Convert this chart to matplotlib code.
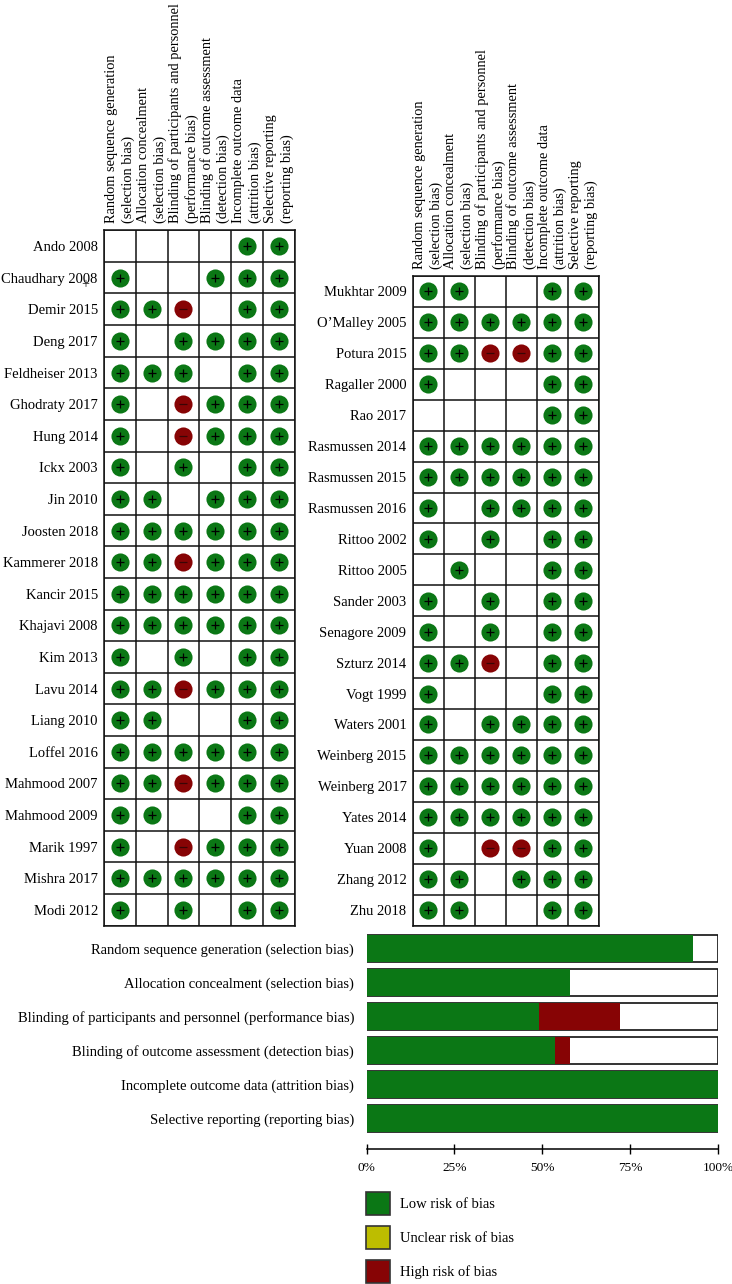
import matplotlib
matplotlib.use("Agg")
from matplotlib import pyplot as plt
from matplotlib.patches import Patch

plt.rcParams["font.family"] = ["Liberation Serif", "DejaVu Serif"]

GREEN = "#0b7715"
RED = "#870405"
YELLOW = "#bdbd00"
WIDTH = 732
HEIGHT = 1284
FONT_SIZE = 10.5

domains = [
    "Random sequence generation\n(selection bias)",
    "Allocation concealment\n(selection bias)",
    "Blinding of participants and personnel\n(performance bias)",
    "Blinding of outcome assessment\n(detection bias)",
    "Incomplete outcome data\n(attrition bias)",
    "Selective reporting\n(reporting bias)",
]

left_studies = [
    "Ando 2008", "Chaudhary 2008", "Demir 2015", "Deng 2017", "Feldheiser 2013", "Ghodraty 2017",
    "Hung 2014", "Ickx 2003", "Jin 2010", "Joosten 2018", "Kammerer 2018", "Kancir 2015",
    "Khajavi 2008", "Kim 2013", "Lavu 2014", "Liang 2010", "Loffel 2016", "Mahmood 2007",
    "Mahmood 2009", "Marik 1997", "Mishra 2017", "Modi 2012",
]
left_ratings = [
    "    ++", "+  +++", "++- ++", "+ ++++", "+++ ++", "+ -+++",
    "+ -+++", "+ + ++", "++ +++", "++++++", "++-+++", "++++++",
    "++++++", "+ + ++", "++-+++", "++  ++", "++++++", "++-+++",
    "++  ++", "+ -+++", "++++++", "+ + ++",
]

right_studies = [
    "Mukhtar 2009", "O\u2019Malley 2005", "Potura 2015", "Ragaller 2000", "Rao 2017", "Rasmussen 2014",
    "Rasmussen 2015", "Rasmussen 2016", "Rittoo 2002", "Rittoo 2005", "Sander 2003", "Senagore 2009",
    "Szturz 2014", "Vogt 1999", "Waters 2001", "Weinberg 2015", "Weinberg 2017", "Yates 2014",
    "Yuan 2008", "Zhang 2012", "Zhu 2018",
]
right_ratings = [
    "++  ++", "++++++", "++--++", "+   ++", "    ++", "++++++",
    "++++++", "+ ++++", "+ + ++", " +  ++", "+ + ++", "+ + ++",
    "++- ++", "+   ++", "+ ++++", "++++++", "++++++", "++++++",
    "+ --++", "++ +++", "++  ++",
]

summary_labels = [
    "Random sequence generation (selection bias)",
    "Allocation concealment (selection bias)",
    "Blinding of participants and personnel (performance bias)",
    "Blinding of outcome assessment (detection bias)",
    "Incomplete outcome data (attrition bias)",
    "Selective reporting (reporting bias)",
]
low_risk = [93, 58, 49, 53.5, 100, 100]
high_risk = [0, 0, 23, 4.5, 0, 0]
pct_ticks = [0, 25, 50, 75, 100]
legend_labels = ["Low risk of bias", "Unclear risk of bias", "High risk of bias"]


def add_axes_px(fig, left, top, right, bottom):
    return fig.add_axes([left / WIDTH, 1 - bottom / HEIGHT, (right - left) / WIDTH, (bottom - top) / HEIGHT])


def plot_matrix(ax, studies, ratings):
    n_rows = len(studies)
    ax.set_xlim(0, len(domains))
    ax.set_ylim(n_rows, 0)
    ax.set_xticks([i + 0.5 for i in range(len(domains))])
    ax.set_xticklabels(domains, rotation=90, ha="center", va="bottom", ma="left", fontsize=10.4, linespacing=1.31)
    ax.set_yticks([i + 0.5 for i in range(n_rows)])
    ax.set_yticklabels(studies, fontsize=FONT_SIZE)
    ax.xaxis.tick_top()
    ax.tick_params(axis="x", which="major", length=0, pad=5)
    ax.tick_params(axis="y", which="major", length=0, pad=4.5)
    ax.set_xticks(range(len(domains) + 1), minor=True)
    ax.set_yticks(range(n_rows + 1), minor=True)
    ax.tick_params(which="minor", length=0)
    ax.grid(which="minor", color="#111111", linewidth=1.1)
    ax.set_axisbelow(True)
    for spine in ax.spines.values():
        spine.set_linewidth(1.1)
        spine.set_color("#111111")
    for row, rating in enumerate(ratings):
        for col, mark in enumerate(rating):
            if mark == " ":
                continue
            color = GREEN if mark == "+" else RED
            sign = "+" if mark == "+" else "_"
            sign_color = "black" if mark == "+" else "#3a0505"
            ax.scatter(col + 0.5, row + 0.5, s=170, color=color, linewidths=0, zorder=3)
            ax.scatter(col + 0.5, row + 0.5, s=36, marker=sign, color=sign_color, linewidths=0.9, zorder=4)


fig = plt.figure(figsize=(WIDTH / 100, HEIGHT / 100), dpi=100)

ax_left = add_axes_px(fig, 104, 230.3, 294.7, 925.5)
plot_matrix(ax_left, left_studies, left_ratings)
ax_right = add_axes_px(fig, 412.7, 276, 599, 925.5)
plot_matrix(ax_right, right_studies, right_ratings)

# stray plus sign next to Chaudhary 2008
fig.text(85.5 / WIDTH, 1 - 285 / HEIGHT, "+", fontsize=10, ha="center", va="center", color="#222222")

ax_bar = add_axes_px(fig, 366.5, 931.5, 718, 1149.3)
y_pos = list(range(len(summary_labels)))
ax_bar.barh(y_pos, [100] * len(y_pos), height=0.78, color="white", edgecolor="#111111", linewidth=1.2)
ax_bar.barh(y_pos, low_risk, height=0.78, color=GREEN, edgecolor="none", zorder=2)
ax_bar.barh(y_pos, high_risk, left=low_risk, height=0.78, color=RED, edgecolor="none", zorder=2)
ax_bar.set_xlim(0, 100)
ax_bar.set_ylim(5.906, -0.5)
ax_bar.set_yticks(y_pos)
ax_bar.set_yticklabels(summary_labels, fontsize=FONT_SIZE)
ax_bar.tick_params(axis="y", length=0, pad=9)
ax_bar.set_xticks(pct_ticks)
ax_bar.set_xticklabels([f"{t}%" for t in pct_ticks], fontsize=9.6)
ax_bar.tick_params(axis="x", direction="inout", length=7.2, width=1, pad=5.5)
for side in ["top", "left", "right"]:
    ax_bar.spines[side].set_visible(False)
ax_bar.spines["bottom"].set_linewidth(1.1)

handles = [
    Patch(facecolor=c, edgecolor="#333333", linewidth=1.2, label=label)
    for c, label in zip([GREEN, YELLOW, RED], legend_labels)
]
fig.legend(
    handles=handles,
    loc="lower left",
    bbox_to_anchor=(366 / WIDTH, 1 - 1282.5 / HEIGHT),
    frameon=False,
    fontsize=FONT_SIZE,
    borderpad=0,
    borderaxespad=0,
    handlelength=1.65,
    handleheight=2.0,
    handletextpad=0.69,
    labelspacing=0.77,
)

fig.savefig("out.png", dpi=100)
